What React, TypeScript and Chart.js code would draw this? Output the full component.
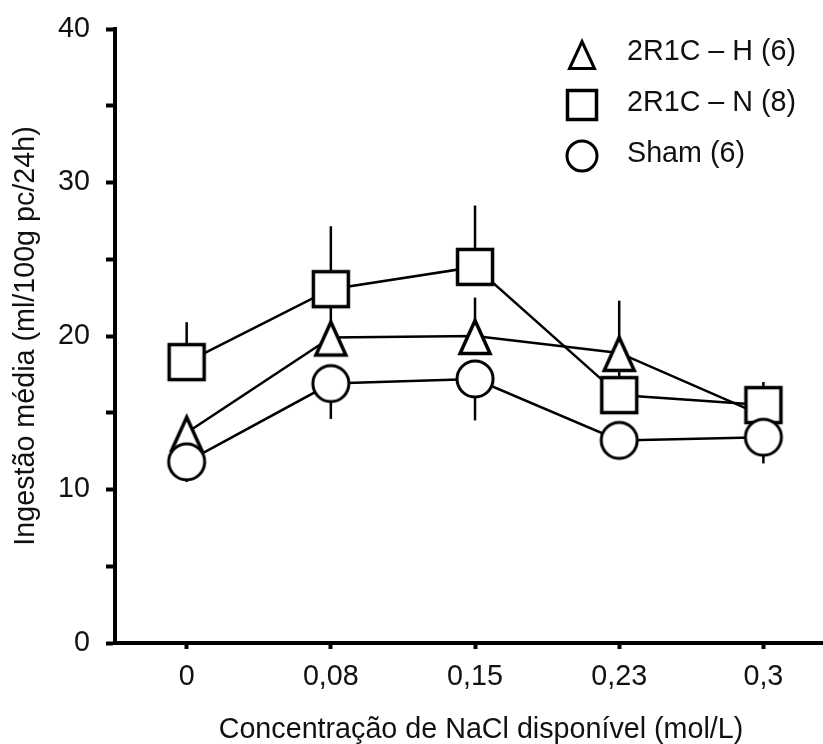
import React, { useEffect, useRef } from 'react';
import { Chart, registerables } from 'chart.js';

Chart.register(...registerables);

// ---------- data ----------
const categories = ['0', '0,08', '0,15', '0,23', '0,3'];
const seriesNames = ['2R1C – H (6)', '2R1C – N (8)', 'Sham (6)'];

const hValues = [13.7, 19.9, 20.0, 18.9, 14.8];
const hErrors = [0.8, 2.3, 2.5, 3.4, 1.0];

const nValues = [18.3, 23.05, 24.5, 16.15, 15.5];
const nErrors = [2.6, 4.1, 4.0, 2.0, 1.5];

const shamValues = [11.8, 16.9, 17.2, 13.2, 13.4];
const shamErrors = [1.3, 2.3, 2.7, 0.7, 1.7];

const yTickValues = [0, 5, 10, 15, 20, 25, 30, 35, 40];
const yTickLabels = ['0', '', '10', '', '20', '', '30', '', '40'];

const xTitle = 'Concentração de NaCl disponível (mol/L)';
const yTitle = 'Ingestão média (ml/100g pc/24h)';

// ---------- styling ----------
const FONT = "'Liberation Sans', Arial, sans-serif";
const FS = 28.7;
const TEXT = '#111';
const CANVAS_W = 847; // extends past the 823px viewport so the x axis runs off the right edge
const CANVAS_H = 744;

type Shape = 'triangle' | 'rect' | 'circle';

function makeMarker(shape: Shape, size: number, lw: number, triHalfW = 0): HTMLCanvasElement {
  const c = document.createElement('canvas');
  const dim = Math.ceil(size + lw * 2 + 12);
  const d = dim % 2 === 0 ? dim : dim + 1;
  c.width = d;
  c.height = d;
  const ctx = c.getContext('2d')!;
  const cx = d / 2;
  const cy = d / 2;
  const h = size / 2;
  ctx.lineWidth = lw;
  ctx.strokeStyle = '#000';
  ctx.fillStyle = '#fff';
  ctx.lineJoin = 'miter';
  ctx.beginPath();
  if (shape === 'rect') {
    ctx.rect(cx - h, cy - h, size, size);
  } else if (shape === 'circle') {
    ctx.arc(cx, cy, h, 0, Math.PI * 2);
  } else {
    const off = 1;
    ctx.moveTo(cx, cy - h + off);
    ctx.lineTo(cx + triHalfW, cy + h + off);
    ctx.lineTo(cx - triHalfW, cy + h + off);
    ctx.closePath();
  }
  ctx.fill();
  ctx.stroke();
  return c;
}

export default function App() {
  const ref = useRef<HTMLCanvasElement>(null);

  useEffect(() => {
    const canvas = ref.current;
    if (!canvas) return;

    const triData = makeMarker('triangle', 33, 3.5, 15);
    const rectData = makeMarker('rect', 35, 3.5);
    const circData = makeMarker('circle', 36, 3);
    const triLeg = makeMarker('triangle', 27, 3, 12.5);
    const rectLeg = makeMarker('rect', 29, 3.5);
    const circLeg = makeMarker('circle', 30, 3);

    const errorBarPlugin = {
      id: 'errorBars',
      beforeDatasetsDraw(chart: any) {
        const ctx = chart.ctx;
        const ys = chart.scales.y;
        ctx.save();
        ctx.strokeStyle = '#000';
        ctx.lineWidth = 2.5;
        ctx.lineCap = 'butt';
        chart.data.datasets.forEach((ds: any, di: number) => {
          const meta = chart.getDatasetMeta(di);
          meta.data.forEach((pt: any, i: number) => {
            const v = ds.data[i].y;
            const e = ds.errors[i];
            const y0 = ys.getPixelForValue(v);
            const y1 = ys.getPixelForValue(v + ds.errorDir * e);
            ctx.beginPath();
            ctx.moveTo(pt.x, y0);
            ctx.lineTo(pt.x, y1);
            ctx.stroke();
          });
        });
        ctx.restore();
      },
    };

    const legendMarkers = [triLeg, rectLeg, circLeg];
    const legendPlugin = {
      id: 'customLegend',
      afterDraw(chart: any) {
        const ctx = chart.ctx;
        ctx.save();
        const rowsY = [54, 105, 155.5];
        seriesNames.forEach((name, i) => {
          const m = legendMarkers[i];
          ctx.drawImage(m, Math.round(581.5 - m.width / 2), Math.round(rowsY[i] - m.height / 2));
          ctx.fillStyle = TEXT;
          ctx.font = `${FS}px ${FONT}`;
          ctx.textAlign = 'left';
          ctx.textBaseline = 'middle';
          ctx.fillText(name, 627, rowsY[i] - 1.5);
        });
        ctx.restore();
      },
    };

    const mk = (vals: number[]) => vals.map((v, i) => ({ x: i, y: v }));
    const common = {
      borderColor: '#000',
      borderWidth: 2.5,
      backgroundColor: '#fff',
      pointBorderWidth: 0,
      pointRadius: 18,
      pointHoverRadius: 18,
      fill: false,
      tension: 0,
    };

    const chart = new Chart(canvas, {
      type: 'line',
      data: {
        datasets: [
          {
            ...common,
            label: seriesNames[0],
            data: mk(hValues),
            errors: hErrors,
            errorDir: 1,
            order: 3,
            pointStyle: triData,
          } as any,
          {
            ...common,
            label: seriesNames[1],
            data: mk(nValues),
            errors: nErrors,
            errorDir: 1,
            order: 2,
            pointStyle: rectData,
          } as any,
          {
            ...common,
            label: seriesNames[2],
            data: mk(shamValues),
            errors: shamErrors,
            errorDir: -1,
            order: 1,
            pointStyle: circData,
          } as any,
        ],
      },
      options: {
        animation: false,
        responsive: false,
        devicePixelRatio: 1,
        events: [],
        layout: { autoPadding: false, padding: { top: 29, left: 0, right: 0, bottom: 0 } },
        plugins: {
          legend: { display: false },
          tooltip: { enabled: false },
        },
        scales: {
          x: {
            type: 'linear',
            min: -0.497,
            max: 4.58,
            afterFit: (s: any) => {
              s.height = 101;
              s.paddingLeft = 0;
              s.paddingRight = 0;
            },
            afterBuildTicks: (s: any) => {
              s.ticks = categories.map((_, i) => ({ value: i }));
            },
            ticks: {
              callback: (v: any) => categories[v] ?? '',
              padding: 11,
              autoSkip: false,
              maxRotation: 0,
              color: TEXT,
              font: { family: FONT, size: FS },
            },
            grid: {
              drawOnChartArea: false,
              drawTicks: true,
              tickLength: 6,
              tickWidth: 4,
              tickColor: '#000',
            },
            border: { display: true, width: 4, color: '#000' },
            title: {
              display: true,
              text: xTitle,
              color: TEXT,
              font: { family: FONT, size: FS, lineHeight: 1.0 },
              padding: { top: 0, bottom: 0 },
            },
          },
          y: {
            type: 'linear',
            min: 0,
            max: 40,
            afterFit: (s: any) => {
              s.width = 115;
              s.paddingTop = 0;
              s.paddingBottom = 0;
            },
            afterBuildTicks: (s: any) => {
              s.ticks = yTickValues.map((v) => ({ value: v }));
            },
            ticks: {
              callback: (v: any) => {
                const idx = yTickValues.indexOf(Number(v));
                return idx >= 0 ? yTickLabels[idx] : '';
              },
              padding: 16,
              autoSkip: false,
              color: TEXT,
              font: { family: FONT, size: FS },
            },
            grid: {
              drawOnChartArea: false,
              drawTicks: true,
              tickLength: 9,
              tickWidth: 4,
              tickColor: '#000',
            },
            border: { display: true, width: 4, color: '#000' },
            title: {
              display: true,
              text: yTitle,
              color: TEXT,
              font: { family: FONT, size: FS },
              padding: { top: 9, bottom: 0 },
            },
          },
        },
      } as any,
      plugins: [errorBarPlugin, legendPlugin],
    });

    return () => chart.destroy();
  }, []);

  return (
    <div style={{ position: 'absolute', left: 0, top: 0, width: 823, height: 744, background: '#fff', overflow: 'hidden' }}>
      <canvas ref={ref} width={CANVAS_W} height={CANVAS_H} style={{ display: 'block' }} />
    </div>
  );
}
